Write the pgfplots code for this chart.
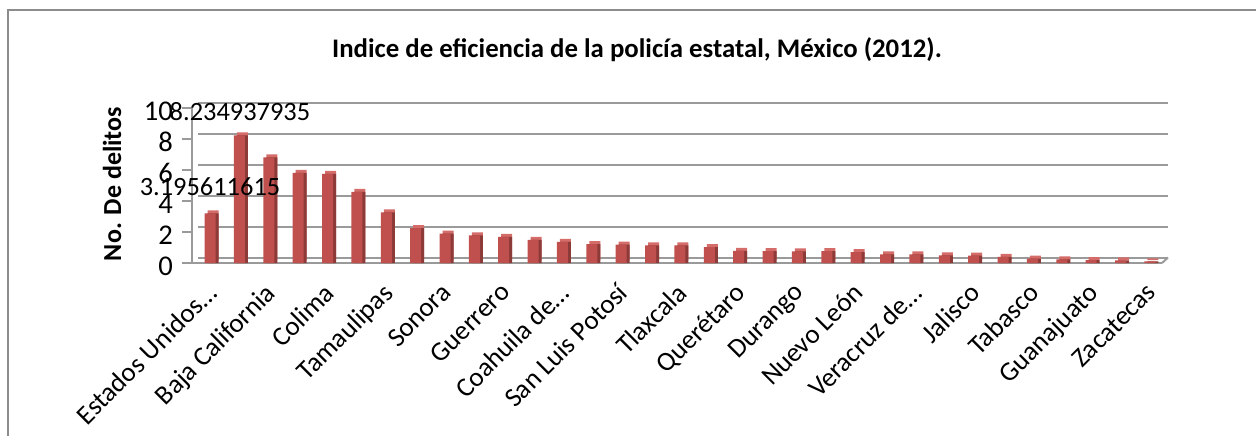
\documentclass[border=0pt]{standalone}
\usepackage{fontspec}
\setmainfont{Carlito}
\usepackage{pgfplots}
\pgfplotsset{compat=1.18}
\usepackage{pgfplotstable}
\definecolor{frontred}{HTML}{C0504D}
\definecolor{sidered}{HTML}{8C3B39}
\definecolor{topred}{HTML}{D46C69}
\definecolor{gridgray}{HTML}{9A9A9A}
\pgfplotstableread{
x y
0 3.196
1 8.235
2 6.82
3 5.82
4 5.75
5 4.59
6 3.27
7 2.25
8 1.89
9 1.78
10 1.68
11 1.50
12 1.36
13 1.22
14 1.18
15 1.14
16 1.14
17 1.03
18 0.79
19 0.77
20 0.75
21 0.76
22 0.70
23 0.55
24 0.55
25 0.49
26 0.47
27 0.40
28 0.28
29 0.24
30 0.18
31 0.17
32 0.10
}\datatable
\begin{document}
\begin{tikzpicture}
\useasboundingbox (0,0) rectangle (628pt,218pt);
\draw[line width=1pt, color=black!45] (4pt,0) -- (4pt,213pt) -- (628pt,213pt);
\node[font=\bfseries\fontsize{13.4}{15}\selectfont] at (318.5pt,193pt) {Indice de eficiencia de la policía estatal, México (2012).};
\node[rotate=90, font=\bfseries\fontsize{13}{15}\selectfont] at (56pt,126pt) {No. De delitos};
\begin{axis}[
  at={(96pt,86.5pt)}, anchor=south west,
  scale only axis, width=485pt, height=77.5pt,
  xmin=-0.613, xmax=32.41, ymin=0, ymax=10,
  clip=false,
  axis lines*=left,
  axis line style={gridgray, line width=0.9pt},
  ymajorgrids,
  major grid style={gridgray, line width=1pt, xshift=3pt, yshift=2.75pt},
  ytick={0,2,4,6,8,10},
  xtick={0,2,...,32},
  xticklabels={Estados Unidos…, Baja California, Colima, Tamaulipas, Sonora, Guerrero, Coahuila de…, San Luis Potosí, Tlaxcala, Querétaro, Durango, Nuevo León, Veracruz de…, Jalisco, Tabasco, Guanajuato, Zacatecas},
  xticklabel style={font=\fontsize{13.5}{15}\selectfont},
  yticklabel style={font=\fontsize{14.3}{16}\selectfont},
  /pgf/number format/assume math mode=true,
  xtick style={draw=none},
  ytick style={gridgray, line width=0.9pt},
  tick align=outside,
  major tick length=5pt,
  yticklabel style={anchor=east, xshift=-1pt, yshift=-1.5pt},
  xticklabel style={xshift=-2.5pt, yshift=-4pt, rotate=45, anchor=north east, inner sep=0pt},
]
\draw[gridgray, line width=1pt] (axis cs:32.41,0) -- ++(3pt,2.75pt);
\addplot[ybar, bar width=5.5pt, bar shift=1.5pt, yshift=1.5pt, fill=topred, draw=none] table[x=x,y=y] {\datatable};
\addplot[ybar, bar width=5.5pt, bar shift=1.5pt, fill=sidered, draw=none] table[x=x,y=y] {\datatable};
\addplot[ybar, bar width=5.5pt, bar shift=0pt, fill=frontred, draw=none] table[x=x,y=y] {\datatable};
\node[font=\fontsize{13.2}{15}\selectfont] at (axis cs:0,4.9) {3.195611615};
\node[font=\fontsize{13.2}{15}\selectfont] at (axis cs:1.02,9.8) {8.234937935};
\end{axis}
\end{tikzpicture}
\end{document}
